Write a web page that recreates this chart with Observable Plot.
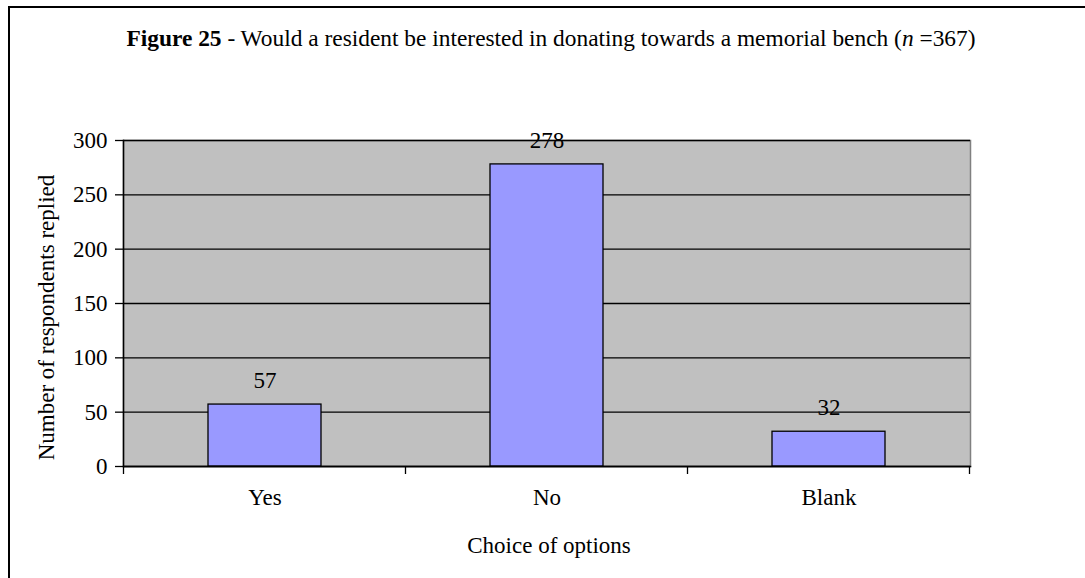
<!DOCTYPE html>
<html><head><meta charset="utf-8">
<script src="https://cdn.jsdelivr.net/npm/d3@7"></script>
<script src="https://cdn.jsdelivr.net/npm/@observablehq/plot@0.6"></script>
<style>body{margin:0;background:#fff}</style>
</head><body><div id="chart"></div>
<script>
const categories = ["Yes", "No", "Blank"];
const values = [57, 278, 32];
const yTicks = [0, 50, 100, 150, 200, 250, 300];
const titleBold = "Figure 25";
const titleText = " - Would a resident be interested in donating towards a memorial bench (";
const titleItalic = "n";
const titleEnd = " =367)";
const yLabel = "Number of respondents replied";
const xLabel = "Choice of options";

const data = categories.map((c, i) => ({category: c, value: values[i]}));
const font = "'Liberation Serif','Times New Roman',serif";
const fs = 23;

const chart = Plot.plot({
  width: 1085, height: 578,
  marginLeft: 123, marginRight: 115, marginTop: 140, marginBottom: 112,
  style: {fontFamily: font, fontSize: fs + "px", background: "#fff", color: "#000"},
  x: {domain: categories, paddingInner: 0.6, paddingOuter: 0.3, axis: null},
  y: {domain: [0, 300], axis: null},
  marks: [
    Plot.frame({fill: "#C0C0C0", stroke: "#808080", strokeWidth: 1.5}),
    Plot.gridY(yTicks, {stroke: "#000", strokeOpacity: 1, strokeWidth: 1.3}),
    Plot.barY(data, {x: "category", y: "value", fill: "#9999FF", stroke: "#000", strokeWidth: 1.3}),
    Plot.text(data, {x: "category", y: "value", text: d => String(d.value), dy: -24, fontSize: fs, fill: "#000"}),
    Plot.frame({anchor: "left", stroke: "#000", strokeWidth: 1.5}),
    Plot.frame({anchor: "bottom", stroke: "#000", strokeWidth: 1.5}),
    Plot.axisY(yTicks, {tickSize: 8, tickPadding: 8, fontSize: fs, label: null, stroke: "#000", strokeWidth: 1.3, fill: "#000"}),
    Plot.axisX({tickSize: 0, tickPadding: 22, fontSize: fs, label: null, fill: "#000"}),
    Plot.text([yLabel], {frameAnchor: "left", textAnchor: "middle", lineAnchor: "middle", rotate: -90, dx: -77, dy: 14, text: d => d, fontSize: fs, fill: "#000"}),
    Plot.text([xLabel], {frameAnchor: "bottom", lineAnchor: "middle", dy: 79, dx: 2, text: d => d, fontSize: fs, fill: "#000"})
  ]
});
document.getElementById("chart").appendChild(chart);

const svg = d3.select(chart);
// category boundary ticks from the band scale
const xs = chart.scale("x");
const bw = xs.bandwidth;
const starts = categories.map(c => xs.apply(c));
const gap = starts[1] - starts[0] - bw;
const bounds = [starts[0] - gap / 2, ...starts.map(s => s + bw + gap / 2)];
const y0 = chart.scale("y").apply(0);
svg.append("g").attr("stroke", "#000").attr("stroke-width", 1.3)
  .selectAll("line").data(bounds).join("line")
  .attr("x1", d => d).attr("x2", d => d).attr("y1", y0).attr("y2", y0 + 8);

// outer border
svg.append("path").attr("d", "M9,578V7H1085").attr("fill", "none").attr("stroke", "#000").attr("stroke-width", 2);

// title
const t = svg.append("text").attr("x", 551).attr("y", 46).attr("text-anchor", "middle")
  .attr("font-family", font).attr("font-size", 23.4).attr("fill", "#000");
t.append("tspan").attr("font-weight", "bold").text(titleBold);
t.append("tspan").text(titleText);
t.append("tspan").attr("font-style", "italic").text(titleItalic);
t.append("tspan").text(titleEnd);
</script>
</body></html>
